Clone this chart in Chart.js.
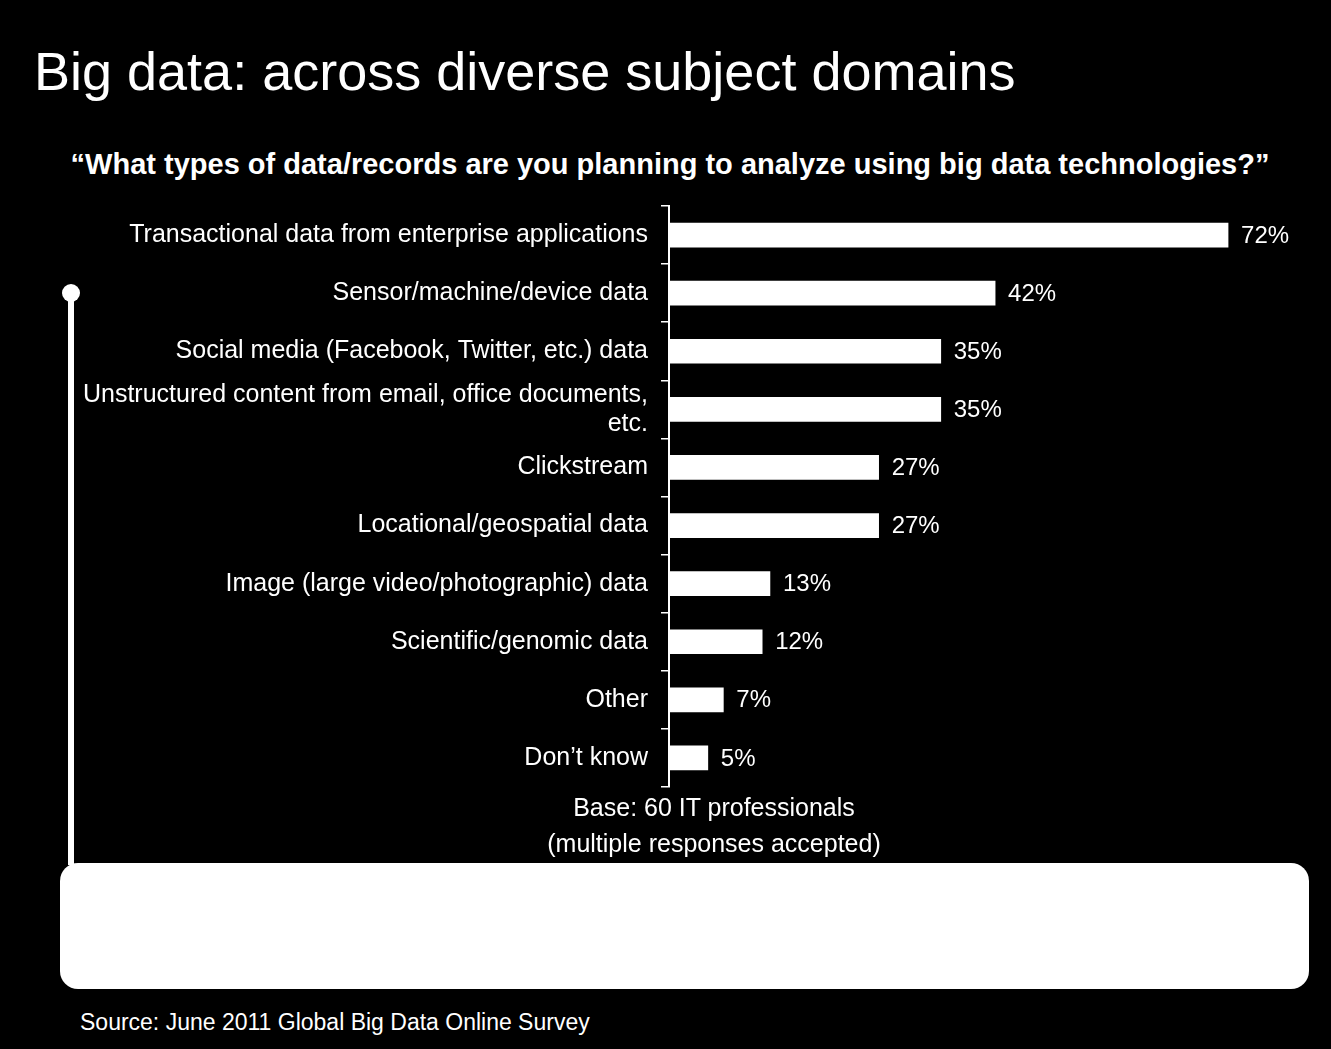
<!DOCTYPE html>
<html>
<head>
<meta charset="utf-8">
<script src="https://cdn.jsdelivr.net/npm/chart.js@4"></script>
<style>
  html, body { margin: 0; padding: 0; background: #000; }
  body { width: 1331px; height: 1049px; position: relative; overflow: hidden;
         font-family: "Liberation Sans", Arial, sans-serif; color: #fff; }
  .abs { position: absolute; white-space: nowrap; }
  #title { left: 34px; top: 40px; font-size: 54px; }
  #question { left: 0; width: 1340px; top: 148px; font-size: 29px; font-weight: bold; text-align: center; }
  #base { left: 0; width: 1428px; top: 789px; font-size: 25px; text-align: center; line-height: 36px; }
  #source { left: 80px; top: 1009px; font-size: 23px; }
  #dot { left: 62px; top: 284px; width: 18px; height: 18px; border-radius: 50%; background: #fff; }
  #stem { left: 68px; top: 293px; width: 6px; height: 572px; background: #fff; }
  #box { left: 60px; top: 863px; width: 1249px; height: 126px; border-radius: 18px; background: #fff; }
  #wrap { position: absolute; left: 0; top: 190px; width: 1331px; height: 610px; }
</style>
</head>
<body>
<div class="abs" id="title">Big data: across diverse subject domains</div>
<div class="abs" id="question">“What types of data/records are you planning to analyze using big data technologies?”</div>
<div class="abs" id="dot"></div>
<div class="abs" id="stem"></div>
<div id="wrap"><canvas id="myChart"></canvas></div>
<div class="abs" id="base">Base: 60 IT professionals<br>(multiple responses accepted)</div>
<div class="abs" id="box"></div>
<div class="abs" id="source">Source: June 2011 Global Big Data Online Survey</div>
<script>
var categories = [
    'Transactional data from enterprise applications',
    'Sensor/machine/device data',
    'Social media (Facebook, Twitter, etc.) data',
    ['Unstructured content from email, office documents,', 'etc.'],
    'Clickstream',
    'Locational/geospatial data',
    'Image (large video/photographic) data',
    'Scientific/genomic data',
    'Other',
    'Don\u2019t know'
];
var values = [72, 42, 35, 35, 27, 27, 13, 12, 7, 5];

var FONT = '"Liberation Sans", Arial, sans-serif';

// draws "72%" etc. to the right of each bar
var valueLabels = {
    id: 'valueLabels',
    afterDatasetsDraw(chart) {
        var ctx = chart.ctx;
        var meta = chart.getDatasetMeta(0);
        ctx.save();
        ctx.fillStyle = '#fff';
        ctx.font = '24px ' + FONT;
        ctx.textBaseline = 'middle';
        ctx.textAlign = 'left';
        meta.data.forEach((bar, i) => {
            ctx.fillText(values[i] + '%', bar.x + 13, bar.y + 1);
        });
        ctx.restore();
    }
};

new Chart('myChart', {
    type: 'bar',
    data: {
        labels: categories,
        datasets: [{
            data: values,
            backgroundColor: '#fff',
            borderWidth: 0,
            barThickness: 24
        }]
    },
    options: {
        indexAxis: 'y',
        responsive: true,
        maintainAspectRatio: false,
        animation: false,
        events: [],
        layout: { padding: { top: 16, bottom: 13, right: 2, left: 0 } },
        plugins: { legend: { display: false }, tooltip: { enabled: false } },
        scales: {
            x: { display: false, min: 0, max: 85 },
            y: {
                afterFit: (s) => { s.width = 669; s.paddingTop = 0; s.paddingBottom = 0; },
                border: { display: true, color: '#fff', width: 2 },
                grid: { drawOnChartArea: false, color: '#fff', tickLength: 8, offset: true, lineWidth: 1.5 },
                ticks: { color: '#fff', font: { size: 25, family: FONT, lineHeight: 1.15 }, padding: 13, autoSkip: false }
            }
        }
    },
    plugins: [valueLabels]
});
</script>
</body>
</html>
